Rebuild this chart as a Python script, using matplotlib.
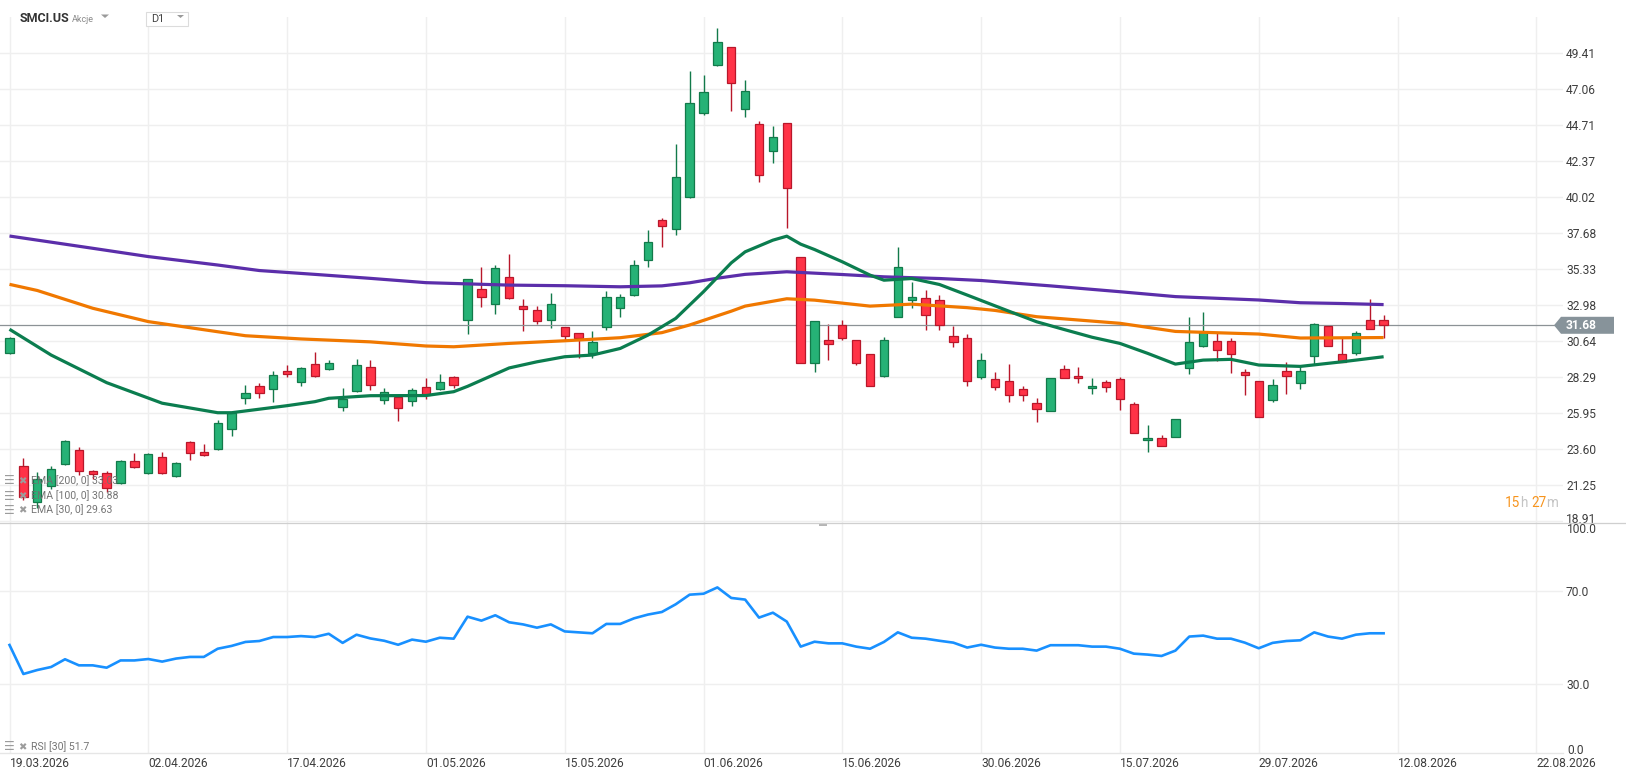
import matplotlib
matplotlib.use("Agg")
import matplotlib.pyplot as plt
import matplotlib.transforms as mtransforms
from matplotlib.patches import Polygon, Rectangle
from matplotlib.lines import Line2D
import numpy as np

plt.rcParams['font.family'] = ['Roboto', 'DejaVu Sans']

# candles (one per session)
opens = [29.85, 22.51, 20.19, 21.17, 22.61, 23.55, 22.18, 22.03, 21.37, 22.83,
         22.03, 23.07, 21.87, 24.07, 23.42, 23.59, 24.90, 26.92, 27.72, 27.50,
         28.68, 27.96, 29.13, 28.81, 26.37, 27.42, 28.94, 26.79, 26.98, 26.72,
         27.66, 27.55, 28.28, 32.00, 34.02, 33.05, 34.80, 32.97, 32.65, 32.00,
         31.54, 31.15, 29.85, 31.54, 32.78, 33.63, 35.91, 38.52, 37.93, 40.06,
         45.50, 48.65, 49.80, 45.75, 44.78, 43.06, 44.84, 36.10, 29.19, 30.69,
         31.73, 30.69, 29.78, 28.38, 32.25, 33.32, 33.43, 33.36, 30.95, 30.82,
         28.33, 28.15, 28.02, 27.50, 26.59, 26.07, 28.81, 28.35, 27.57, 27.96,
         28.15, 26.52, 24.18, 24.31, 24.37, 28.87, 30.31, 30.63, 30.63, 28.61,
         28.02, 26.78, 28.68, 27.89, 29.65, 31.63, 29.83, 29.85, 32.00, 32.00]
highs = [30.90, 23.03, 22.10, 22.51, 24.20, 23.72, 22.24, 22.18, 22.90, 23.33,
         23.33, 23.40, 22.74, 24.14, 23.92, 25.48, 25.98, 27.79, 27.90, 28.70,
         29.07, 28.94, 29.94, 29.42, 27.57, 29.48, 29.42, 27.59, 27.05, 27.57,
         28.24, 28.48, 28.40, 34.70, 35.50, 35.60, 36.32, 33.39, 32.93, 33.78,
         31.58, 31.20, 31.30, 33.91, 33.69, 35.91, 37.87, 38.67, 43.50, 48.26,
         48.00, 51.04, 49.85, 47.70, 44.97, 44.67, 44.84, 36.10, 31.93, 31.75,
         32.01, 30.69, 29.78, 30.91, 36.78, 34.52, 33.97, 33.64, 31.62, 31.14,
         29.85, 28.61, 29.15, 27.72, 26.94, 28.22, 29.09, 28.96, 28.24, 28.11,
         28.28, 26.65, 25.18, 24.50, 25.54, 32.20, 32.55, 31.20, 30.83, 28.83,
         28.02, 28.18, 29.28, 29.00, 31.85, 31.68, 30.85, 31.28, 33.37, 32.35]
lows = [29.80, 20.30, 19.75, 21.01, 22.55, 21.92, 21.63, 20.79, 21.31, 22.39,
        21.96, 21.96, 21.81, 22.90, 23.16, 23.53, 24.48, 26.57, 26.96, 26.70,
        28.33, 27.74, 28.33, 28.74, 26.11, 27.35, 27.48, 26.57, 25.46, 26.40,
        26.89, 27.48, 27.60, 31.13, 32.89, 32.43, 33.40, 31.28, 31.78, 31.52,
        30.71, 29.58, 29.52, 31.35, 32.24, 33.60, 35.50, 36.80, 37.56, 40.00,
        45.40, 48.60, 45.67, 45.23, 41.04, 42.28, 38.04, 29.20, 28.64, 29.43,
        30.75, 29.12, 27.75, 28.32, 32.20, 32.82, 31.36, 31.36, 30.27, 27.73,
        28.20, 27.48, 26.70, 26.76, 25.39, 26.07, 28.22, 27.94, 27.22, 27.35,
        26.18, 24.63, 23.39, 23.79, 24.37, 28.52, 30.24, 29.33, 28.59, 27.15,
        25.68, 26.70, 27.22, 27.50, 29.09, 30.31, 29.31, 29.72, 31.41, 30.87]
closes = [30.83, 20.47, 21.64, 22.30, 24.14, 22.18, 21.96, 21.05, 22.83, 22.46,
          23.29, 22.03, 22.68, 23.33, 23.20, 25.29, 25.94, 27.24, 27.29, 28.44,
          28.52, 28.87, 28.39, 29.20, 26.89, 29.07, 27.81, 27.31, 26.31, 27.46,
          27.13, 27.96, 27.80, 34.67, 33.50, 35.39, 33.43, 32.71, 31.93, 33.04,
          30.95, 30.82, 30.60, 33.50, 33.50, 35.58, 37.08, 38.13, 41.32, 46.15,
          46.87, 50.13, 47.45, 46.95, 41.51, 43.93, 40.60, 29.25, 31.93, 30.43,
          30.82, 29.19, 27.75, 30.69, 35.51, 33.52, 32.38, 31.69, 30.62, 28.08,
          29.39, 27.63, 27.15, 27.15, 26.20, 28.22, 28.22, 28.22, 27.70, 27.63,
          26.85, 24.63, 24.31, 23.79, 25.54, 30.57, 31.26, 30.05, 29.78, 28.41,
          25.68, 27.76, 28.35, 28.68, 31.76, 30.31, 29.31, 31.15, 31.41, 31.68]

# moving averages, read at sample sessions
ema200_x = [0, 3, 6, 10, 15, 18, 22, 26, 30, 33, 36, 40, 44, 47, 49, 51, 53, 56,
            60, 63, 67, 70, 75, 80, 84, 90, 93, 96, 99]
ema200 = [37.50, 37.10, 36.70, 36.16, 35.61, 35.25, 35.00, 34.74, 34.46, 34.38,
          34.30, 34.26, 34.19, 34.25, 34.45, 34.75, 35.00, 35.17, 34.99, 34.84,
          34.73, 34.60, 34.25, 33.87, 33.55, 33.33, 33.15, 33.10, 33.03]
ema100_x = [0, 2, 6, 10, 15, 17, 21, 26, 30, 32, 36, 40, 44, 47, 49, 50, 52, 53,
            56, 58, 62, 65, 69, 71, 74, 80, 84, 90, 93, 99]
ema100 = [34.35, 33.95, 32.79, 31.92, 31.26, 31.00, 30.79, 30.60, 30.33, 30.28,
          30.50, 30.67, 30.87, 31.20, 31.70, 32.00, 32.60, 32.93, 33.41, 33.32,
          32.93, 33.06, 32.83, 32.65, 32.24, 31.81, 31.28, 31.11, 30.85, 30.88]
ema30_x = [0, 3, 7, 11, 15, 16, 20, 22, 23, 26, 30, 32, 33, 36, 38, 40, 42, 44,
           46, 48, 50, 52, 53, 55, 56, 57, 58, 60, 62, 63, 65, 67, 69, 72, 74,
           76, 78, 80, 82, 84, 86, 88, 90, 93, 96, 99]
ema30 = [31.42, 29.74, 27.94, 26.60, 25.98, 25.98, 26.44, 26.70, 26.92, 27.09,
         27.10, 27.35, 27.70, 28.90, 29.30, 29.63, 29.74, 30.17, 31.04, 32.13,
         33.87, 35.75, 36.47, 37.23, 37.49, 36.97, 36.62, 35.82, 34.95, 34.62,
         34.73, 34.34, 33.65, 32.60, 31.91, 31.40, 30.90, 30.50, 29.85, 29.15,
         29.41, 29.46, 29.09, 29.00, 29.30, 29.63]

rsi = [46.8, 34.4, 36.1, 37.4, 40.7, 38.1, 38.1, 37.1, 40.2, 40.2,
       40.8, 39.7, 41.0, 41.7, 41.7, 45.2, 46.4, 48.1, 48.5, 50.2,
       50.2, 50.6, 50.2, 51.6, 47.7, 51.2, 49.6, 48.6, 46.9, 49.1,
       48.2, 49.9, 49.5, 58.9, 57.2, 59.5, 56.5, 55.6, 54.2, 55.6,
       52.6, 52.2, 51.8, 55.8, 55.8, 58.2, 59.8, 60.9, 64.2, 68.3,
       68.7, 71.4, 66.9, 66.2, 58.5, 60.6, 56.8, 46.1, 48.2, 47.5,
       47.5, 46.1, 45.2, 48.1, 52.2, 49.9, 49.5, 48.6, 47.8, 45.7,
       46.9, 45.7, 45.2, 45.2, 44.4, 46.7, 46.7, 46.7, 46.1, 46.1,
       45.2, 43.1, 42.7, 42.1, 44.4, 50.4, 50.8, 49.5, 49.5, 47.8,
       45.4, 47.7, 48.5, 48.8, 52.2, 50.4, 49.5, 51.2, 51.8, 51.8]

price_ticks = [18.91, 21.25, 23.60, 25.95, 28.29, 30.64, 32.98, 35.33, 37.68,
               40.02, 42.37, 44.71, 47.06, 49.41]
date_labels = ['19.03.2026', '02.04.2026', '17.04.2026', '01.05.2026',
               '15.05.2026', '01.06.2026', '15.06.2026', '30.06.2026',
               '15.07.2026', '29.07.2026', '12.08.2026', '22.08.2026']
last_price = 31.68

W, H, DPI = 1626, 779, 100
PT = 72 / DPI  # points per pixel

GREEN, GREEN_E = '#26b276', '#127a4a'
RED, RED_E = '#ff3347', '#b8172a'
GRID = '#efefef'
TXT = '#3d3d3d'


def fx(x):
    return x / W


def fy(y):
    return 1 - y / H


fig = plt.figure(figsize=(W / DPI, H / DPI), dpi=DPI)
fig.patch.set_facecolor('white')

right = fx(1563)
ax = fig.add_axes([0, fy(523), right, fy(17) - fy(523)])
ax2 = fig.add_axes([0, fy(753), right, fy(523) - fy(753)], sharex=ax)

# price panel
o, h, l, c = map(np.array, (opens, highs, lows, closes))
idx = np.arange(len(o))
up = c >= o
dn = ~up
lo_body = np.minimum(o, c)
hgt = np.maximum(np.abs(c - o), 0.06)

ax.vlines(idx[up], l[up], h[up], color=GREEN_E, lw=1.0, zorder=2)
ax.vlines(idx[dn], l[dn], h[dn], color=RED_E, lw=1.0, zorder=2)
ax.bar(idx[up], hgt[up], bottom=lo_body[up], width=0.6, color=GREEN,
       edgecolor=GREEN_E, lw=0.9, zorder=3)
ax.bar(idx[dn], hgt[dn], bottom=lo_body[dn], width=0.6, color=RED,
       edgecolor=RED_E, lw=0.9, zorder=3)

ax.axhline(last_price, color='#8c9296', lw=0.9, zorder=2.5)

for xs, ys, col in [(ema200_x, ema200, '#5b2eaa'), (ema100_x, ema100, '#f07800'),
                    (ema30_x, ema30, '#0b7d4f')]:
    ax.plot(xs, ys, color=col, lw=2.3, zorder=4, solid_joinstyle='round',
            solid_capstyle='butt')

ax.set_xlim(-9.5 / 13.88, (1563 - 9.5) / 13.88)
ax.set_ylim(18.79, 51.78)
ax.set_xticks(range(0, 111, 10))
ax.set_yticks(price_ticks)
ax.set_yticklabels([f'{v:.2f}' for v in price_ticks])
ax.yaxis.tick_right()
ax.tick_params(axis='x', length=0, labelbottom=False)
ax.tick_params(axis='y', length=0, pad=3 * PT, labelsize=12 * PT, labelcolor=TXT)
ax.grid(True, color=GRID, lw=1.0)
ax.set_axisbelow(True)
for s in ax.spines.values():
    s.set_visible(False)

# nudge lowest price label up, as in the original
for t in ax.yaxis.get_major_ticks():
    if abs(t.get_loc() - 18.91) < 1e-6:
        t.label2.set_transform(t.label2.get_transform() +
                               mtransforms.ScaledTranslation(0, 3 / DPI, fig.dpi_scale_trans))

# last price tag
blend = mtransforms.blended_transform_factory(fig.transFigure, ax.transData)
dy = 8.5 / 15.34
tag = Polygon([(fx(1554), last_price), (fx(1561), last_price + dy),
               (fx(1614), last_price + dy), (fx(1614), last_price - dy),
               (fx(1561), last_price - dy)], closed=True, transform=blend,
              facecolor='#87939a', edgecolor='none', clip_on=False, zorder=10)
ax.add_patch(tag)
ax.text(fx(1566), last_price, f'{last_price:.2f}', transform=blend, color='white',
        fontsize=12 * PT, fontweight='bold', va='center', ha='left', zorder=11,
        clip_on=False)

# RSI panel
ax2.plot(idx, rsi, color='#1890ff', lw=1.9, zorder=3, solid_joinstyle='round')
ax2.set_ylim(0.64, 98.93)
ax2.set_yticks([30, 70])
ax2.set_yticklabels(['30.0', '70.0'])
ax2.yaxis.tick_right()
ax2.tick_params(axis='y', length=0, pad=3 * PT, labelsize=12 * PT, labelcolor=TXT)
ax2.set_xticks(range(0, 111, 10))
ax2.set_xticklabels(date_labels, ha='left')
ax2.tick_params(axis='x', length=0, pad=4 * PT, labelsize=12 * PT, labelcolor=TXT)
ax2.grid(True, color=GRID, lw=1.0)
ax2.set_axisbelow(True)
for k, s in ax2.spines.items():
    s.set_visible(k == 'bottom')
ax2.spines['bottom'].set_color('#e6e6e6')
ax2.spines['bottom'].set_linewidth(1.0)
fig.text(fx(1567), fy(529.5), '100.0', fontsize=12 * PT, color=TXT, va='center')
fig.text(fx(1567), fy(750), '0.0', fontsize=12 * PT, color=TXT, va='center')

# separator between panels + drag handle
fig.add_artist(Line2D([0, 1], [fy(523), fy(523)], color='#cfcfcf', lw=0.9))
fig.add_artist(Rectangle((fx(819), fy(525.5)), fx(8), 3 / H, facecolor='#b5b5b5',
                         edgecolor='none'))

# header
fig.text(fx(20), fy(18.5), 'SMCI.US', fontsize=12.5 * PT, fontweight='bold',
         color='#333333', va='center')
fig.text(fx(72), fy(19.5), 'Akcje', fontsize=9 * PT, color='#8a8a8a', va='center')
fig.add_artist(Polygon([(fx(101), fy(14.5)), (fx(109), fy(14.5)), (fx(105), fy(18))],
                       closed=True, facecolor='#9a9a9a', edgecolor='none'))
fig.add_artist(Rectangle((fx(146), fy(26)), fx(42), 14 / H, facecolor='white',
                         edgecolor='#dcdcdc', lw=0.8))
fig.text(fx(151), fy(19), 'D1', fontsize=11 * PT, color='#444444', va='center')
fig.add_artist(Polygon([(fx(177), fy(15)), (fx(184), fy(15)), (fx(180.5), fy(18))],
                       closed=True, facecolor='#9a9a9a', edgecolor='none'))

# indicator legends
legend_rows = [('EMA [200, 0] 33.03', 481), ('EMA [100, 0] 30.88', 496),
               ('EMA [30, 0] 29.63', 510), ('RSI [30] 51.7', 747)]
for label, yy in legend_rows:
    fig.text(fx(4), fy(yy), '\u2630', fontsize=12 * PT, color='#9c9c9c', va='center',
             family=['DejaVu Sans'], fontweight='bold')
    fig.text(fx(18.5), fy(yy), '\u2716', fontsize=10 * PT, color='#9c9c9c', va='center',
             family=['DejaVu Sans'])
    fig.text(fx(31), fy(yy), label, fontsize=10.5 * PT, color='#6e6e6e', va='center',
             alpha=0.95, zorder=20)

# session countdown
for txt, xx, col in [('15', 1505, '#f7941d'), ('h', 1520, '#c4c4c4'),
                     ('27', 1531, '#f7941d'), ('m', 1546, '#c4c4c4')]:
    fig.text(fx(xx), fy(503), txt, fontsize=13.5 * PT, color=col, va='center')

fig.savefig('out.png', dpi=DPI)
